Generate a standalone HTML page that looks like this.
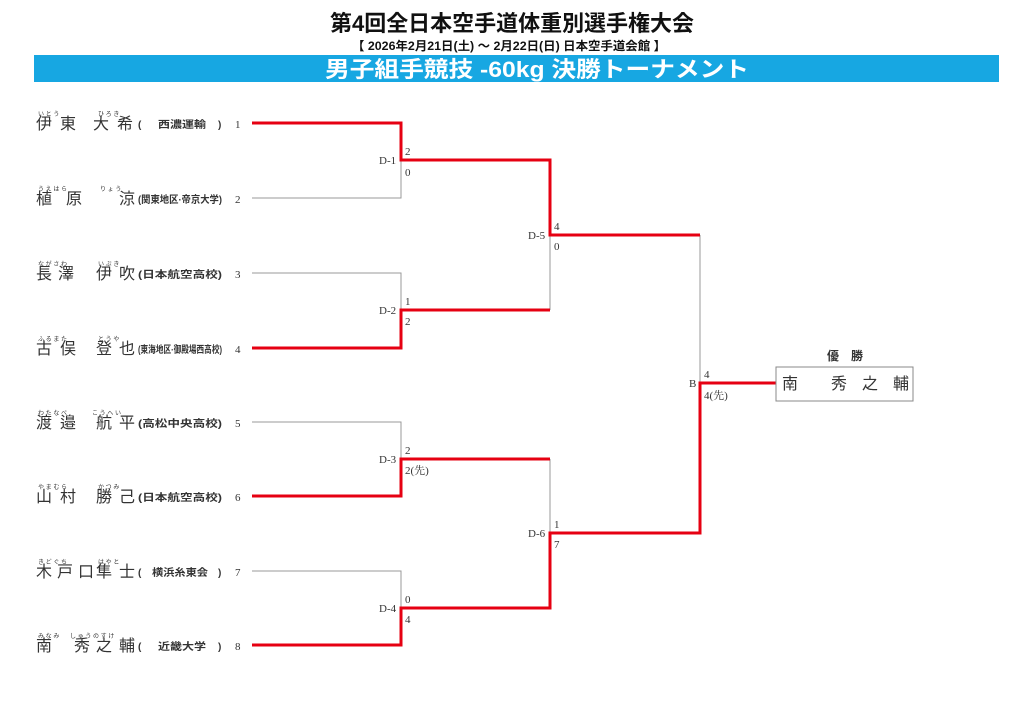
<!DOCTYPE html>
<html><head><meta charset="utf-8"><style>
html,body{margin:0;padding:0;background:#fff;width:1024px;height:724px;overflow:hidden}
svg{display:block}
.t{font-family:"Liberation Sans","Noto Sans CJK JP",sans-serif}
.s{font-family:"Liberation Serif","Noto Serif CJK SC",serif;font-size:11px;fill:#333}
.n{font-family:"Liberation Sans","Noto Sans CJK JP",sans-serif;font-size:16px;fill:#333}
.f{font-family:"Liberation Sans","Noto Sans CJK JP",sans-serif;font-size:6px;fill:#333}
.tm{font-family:"Liberation Sans","Noto Sans CJK JP",sans-serif;font-size:10px;fill:#333;font-weight:bold}
.g{stroke:#999;stroke-width:1;fill:none}
.r{stroke:#e60012;stroke-width:3;fill:none}
</style></head><body>
<svg width="1024" height="724" viewBox="0 0 1024 724">
<text x="512" y="31" text-anchor="middle" class="t" font-size="22" font-weight="bold" fill="#111" textLength="364" lengthAdjust="spacingAndGlyphs">第4回全日本空手道体重別選手権大会</text>
<text x="509" y="50" text-anchor="middle" class="t" font-size="12" font-weight="bold" fill="#111" textLength="314" lengthAdjust="spacingAndGlyphs">【 2026年2月21日(土) ～ 2月22日(日)  日本空手道会館 】</text>
<rect x="34" y="55" width="965" height="27" fill="#17a7e2"/>
<text x="537" y="77" text-anchor="middle" class="t" font-size="22" font-weight="bold" fill="#fff" textLength="424" lengthAdjust="spacingAndGlyphs">男子組手競技 -60kg 決勝トーナメント</text>

<path class="g" d="M252 198H401V160M252 273H401V310M252 422H401V459M252 571H401V608M550 235V310M550 459V533M700 235V383"/>
<path class="r" d="M252 123H401V160H550V235H700"/>
<path class="r" d="M252 348H401V310H550"/>
<path class="r" d="M252 496H401V459H550"/>
<path class="r" d="M252 645H401V608H550V533H700V383H776"/>

<rect x="776" y="367" width="137" height="34" fill="#fff" stroke="#888"/>
<text x="845" y="360" text-anchor="middle" class="t" font-size="12" font-weight="bold" fill="#333">優　勝</text>
<text x="782" y="389" class="n" font-size="14">南</text>
<text x="831" y="389" class="n" font-size="14">秀</text>
<text x="862" y="389" class="n" font-size="14">之</text>
<text x="893" y="389" class="n" font-size="14">輔</text>

<g class="s">
<text x="379" y="164">D-1</text><text x="405" y="155">2</text><text x="405" y="176">0</text>
<text x="379" y="314">D-2</text><text x="405" y="305">1</text><text x="405" y="325">2</text>
<text x="379" y="463">D-3</text><text x="405" y="454">2</text><text x="405" y="474">2(先)</text>
<text x="379" y="612">D-4</text><text x="405" y="603">0</text><text x="405" y="623">4</text>
<text x="528" y="239">D-5</text><text x="554" y="230">4</text><text x="554" y="250">0</text>
<text x="528" y="537">D-6</text><text x="554" y="528">1</text><text x="554" y="548">7</text>
<text x="689" y="387">B</text><text x="704" y="378">4</text><text x="704" y="399">4(先)</text>
</g>

<g>
<text class="f" x="38" y="116">い と う</text><text class="f" x="98" y="116">ひ ろ き</text>
<text class="n" x="36" y="129">伊</text><text class="n" x="60" y="129">東</text><text class="n" x="93" y="129">大</text><text class="n" x="117" y="129">希</text>
<text class="tm" x="138" y="128">(</text><text class="tm" x="158" y="128" textLength="48" lengthAdjust="spacingAndGlyphs">西濃運輸</text><text class="tm" x="218" y="128">)</text><text class="s" x="235" y="128" font-size="9">1</text>

<text class="f" x="38" y="191">う え は ら</text><text class="f" x="100" y="191">り ょ う</text>
<text class="n" x="36" y="204">植</text><text class="n" x="66" y="204">原</text><text class="n" x="119" y="204">涼</text>
<text class="tm" x="138" y="203" textLength="84" lengthAdjust="spacingAndGlyphs">(関東地区·帝京大学)</text><text class="s" x="235" y="203" font-size="9">2</text>

<text class="f" x="38" y="266">な が さ わ</text><text class="f" x="98" y="266">い ぶ き</text>
<text class="n" x="36" y="279">長</text><text class="n" x="58" y="279">澤</text><text class="n" x="96" y="279">伊</text><text class="n" x="119" y="279">吹</text>
<text class="tm" x="138" y="278" textLength="84" lengthAdjust="spacingAndGlyphs">(日本航空高校)</text><text class="s" x="235" y="278" font-size="9">3</text>

<text class="f" x="38" y="341">ふ る ま た</text><text class="f" x="98" y="341">と う や</text>
<text class="n" x="36" y="354">古</text><text class="n" x="60" y="354">俣</text><text class="n" x="96" y="354">登</text><text class="n" x="119" y="354">也</text>
<text class="tm" x="138" y="353" textLength="84" lengthAdjust="spacingAndGlyphs">(東海地区·御殿場西高校)</text><text class="s" x="235" y="353" font-size="9">4</text>

<text class="f" x="38" y="415">わ た な べ</text><text class="f" x="92" y="415">こ う へ い</text>
<text class="n" x="36" y="428">渡</text><text class="n" x="60" y="428">邉</text><text class="n" x="96" y="428">航</text><text class="n" x="119" y="428">平</text>
<text class="tm" x="138" y="427" textLength="84" lengthAdjust="spacingAndGlyphs">(高松中央高校)</text><text class="s" x="235" y="427" font-size="9">5</text>

<text class="f" x="38" y="489">や ま む ら</text><text class="f" x="98" y="489">か つ み</text>
<text class="n" x="36" y="502">山</text><text class="n" x="60" y="502">村</text><text class="n" x="96" y="502">勝</text><text class="n" x="119" y="502">己</text>
<text class="tm" x="138" y="501" textLength="84" lengthAdjust="spacingAndGlyphs">(日本航空高校)</text><text class="s" x="235" y="501" font-size="9">6</text>

<text class="f" x="38" y="564">き ど ぐ ち</text><text class="f" x="98" y="564">は や と</text>
<text class="n" x="36" y="577">木</text><text class="n" x="57" y="577">戸</text><text class="n" x="78" y="577">口</text><text class="n" x="96" y="577">隼</text><text class="n" x="119" y="577">士</text>
<text class="tm" x="138" y="576">(</text><text class="tm" x="152" y="576" textLength="56" lengthAdjust="spacingAndGlyphs">横浜糸東会</text><text class="tm" x="218" y="576">)</text><text class="s" x="235" y="576" font-size="9">7</text>

<text class="f" x="38" y="638">み な み</text><text class="f" x="70" y="638">し ゅ う の す け</text>
<text class="n" x="36" y="651">南</text><text class="n" x="74" y="651">秀</text><text class="n" x="96" y="651">之</text><text class="n" x="119" y="651">輔</text>
<text class="tm" x="138" y="650">(</text><text class="tm" x="158" y="650" textLength="48" lengthAdjust="spacingAndGlyphs">近畿大学</text><text class="tm" x="218" y="650">)</text><text class="s" x="235" y="650" font-size="9">8</text>
</g>
</svg>
</body></html>
